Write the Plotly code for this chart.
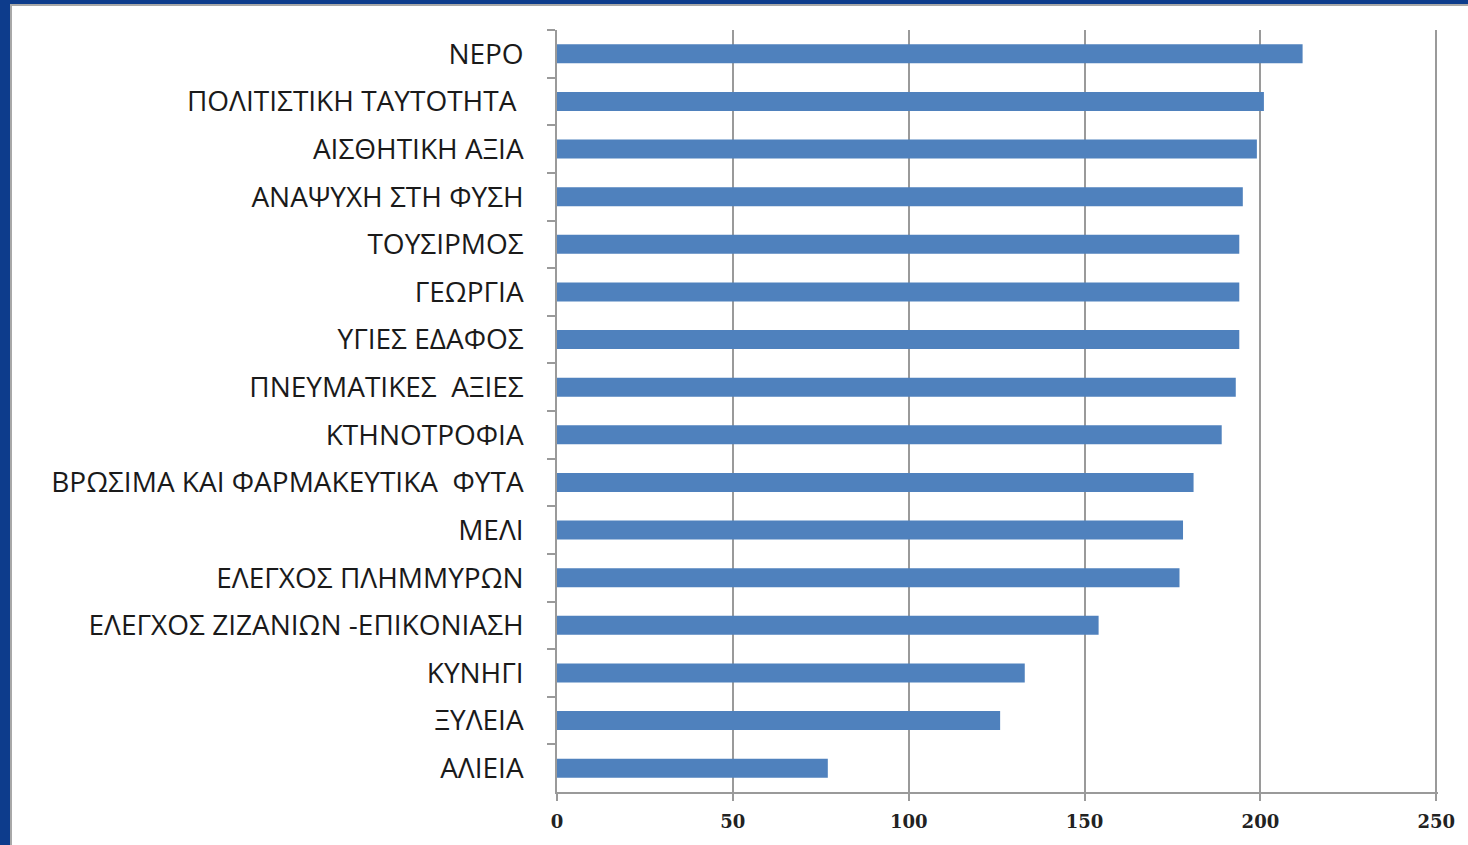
import plotly.graph_objects as go

categories = [
    "ΝΕΡΟ",
    "ΠΟΛΙΤΙΣΤΙΚΗ ΤΑΥΤΟΤΗΤΑ\u00a0",
    "ΑΙΣΘΗΤΙΚΗ ΑΞΙΑ",
    "ΑΝΑΨΥΧΗ ΣΤΗ ΦΥΣΗ",
    "ΤΟΥΣΙΡΜΟΣ",
    "ΓΕΩΡΓΙΑ",
    "ΥΓΙΕΣ ΕΔΑΦΟΣ",
    "ΠΝΕΥΜΑΤΙΚΕΣ\u00a0 ΑΞΙΕΣ",
    "ΚΤΗΝΟΤΡΟΦΙΑ",
    "ΒΡΩΣΙΜΑ ΚΑΙ ΦΑΡΜΑΚΕΥΤΙΚΑ\u00a0 ΦΥΤΑ",
    "ΜΕΛΙ",
    "ΕΛΕΓΧΟΣ ΠΛΗΜΜΥΡΩΝ",
    "ΕΛΕΓΧΟΣ ΖΙΖΑΝΙΩΝ -ΕΠΙΚΟΝΙΑΣΗ",
    "ΚΥΝΗΓΙ",
    "ΞΥΛΕΙΑ",
    "ΑΛΙΕΙΑ",
]
values = [212, 201, 199, 195, 194, 194, 194, 193, 189, 181, 178, 177, 154, 133, 126, 77]
x_ticks = [0, 50, 100, 150, 200, 250]

W, H = 1468, 845
L, R, T, B = 557, 30, 30, 53
pw, ph = W - L - R, H - T - B

def px_x(p):
    return (p - L) / pw

def px_y(p):
    return (H - B - p) / ph

fig = go.Figure(
    go.Bar(
        x=values,
        y=categories,
        orientation="h",
        marker=dict(color="#4F81BD", line=dict(width=0)),
    )
)

# frame: navy page with a white panel and grey inner line
fig.add_shape(
    type="rect", xref="paper", yref="paper",
    x0=px_x(11), x1=px_x(W + 20), y0=px_y(5), y1=px_y(H + 20),
    fillcolor="white", line=dict(color="#A8A8A8", width=2), layer="below",
)

fig.update_layout(
    width=W, height=H,
    margin=dict(l=L, r=R, t=T, b=B, pad=0),
    paper_bgcolor="#0D3C8C",
    plot_bgcolor="rgba(0,0,0,0)",
    showlegend=False,
    bargap=0.6,
)
fig.update_xaxes(
    range=[0, 250.5],
    tickvals=x_ticks,
    ticktext=[f"<b>{v}</b>" for v in x_ticks],
    showgrid=True, gridcolor="#9A9A9A", gridwidth=1.5,
    showline=True, linecolor="#9A9A9A", linewidth=1.5,
    ticks="outside", ticklen=7, tickcolor="#9A9A9A", tickwidth=1.5,
    tickfont=dict(family="DejaVu Serif", size=18, color="#222222"),
    ticklabelstandoff=6,
    zeroline=False,
)
fig.update_yaxes(
    categoryorder="array", categoryarray=categories,
    autorange="reversed",
    tickson="boundaries",
    showgrid=False,
    showline=True, linecolor="#9A9A9A", linewidth=1.5,
    ticks="outside", ticklen=8, tickcolor="#9A9A9A", tickwidth=1.5,
    tickfont=dict(family="Open Sans", size=28, color="#1A1A1A"),
    ticklabelstandoff=26,
)

fig.write_html(
    "out.html",
    config={"displayModeBar": False},
    post_script="document.body.style.margin='0';",
)
